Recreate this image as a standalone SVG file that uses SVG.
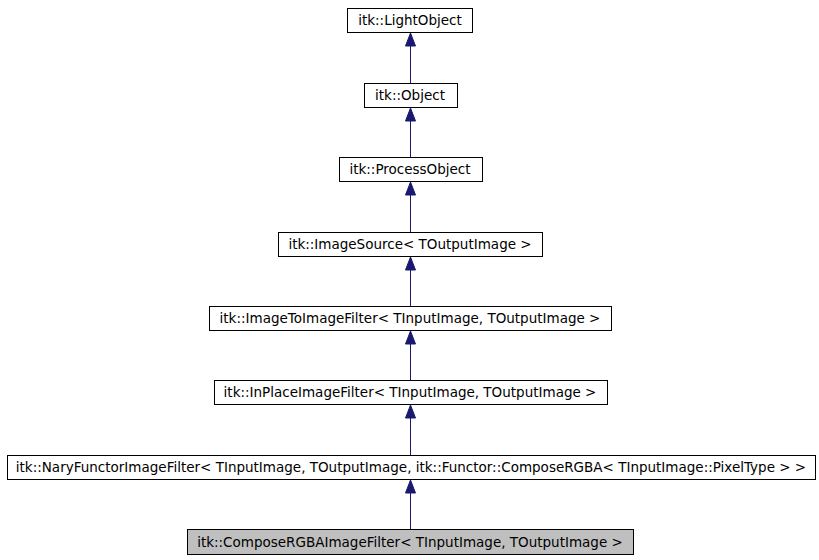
<svg xmlns="http://www.w3.org/2000/svg" width="819" height="560" viewBox="0 0 819 560">
<style>
rect{fill:#fff;stroke:#000;stroke-width:1}
text{font-family:"DejaVu Sans",sans-serif;font-size:13.5px;text-anchor:middle;fill:#000}
.e{stroke:#191970;stroke-width:1;fill:none}
.h{fill:#191970;stroke:#191970}
</style>
<rect x="0" y="0" width="819" height="560" style="fill:#fff;stroke:none"/>
<g id="n1"><rect x="347.5" y="8.5" width="125" height="24"/><text x="410" y="25">itk::LightObject</text></g>
<g id="n2"><rect x="364.5" y="83.5" width="93" height="24"/><text x="410" y="100">itk::Object</text></g>
<g id="n3"><rect x="339.5" y="157.5" width="143" height="24"/><text x="410" y="174">itk::ProcessObject</text></g>
<g id="n4"><rect x="278.5" y="232.5" width="264" height="24"/><text x="410" y="249">itk::ImageSource&lt; TOutputImage &gt;</text></g>
<g id="n5"><rect x="209.5" y="306.5" width="402" height="24"/><text x="410" y="323">itk::ImageToImageFilter&lt; TInputImage, TOutputImage &gt;</text></g>
<g id="n6"><rect x="214.5" y="380.5" width="393" height="24"/><text x="410" y="397">itk::InPlaceImageFilter&lt; TInputImage, TOutputImage &gt;</text></g>
<g id="n7"><rect x="7.5" y="455.5" width="808" height="24"/><text x="411" y="472">itk::NaryFunctorImageFilter&lt; TInputImage, TOutputImage, itk::Functor::ComposeRGBA&lt; TInputImage::PixelType &gt; &gt;</text></g>
<g id="n8"><rect x="187.5" y="529.5" width="446" height="25" style="fill:#bfbfbf"/><text x="410" y="547">itk::ComposeRGBAImageFilter&lt; TInputImage, TOutputImage &gt;</text></g>
<g id="edges">
<path class="e" d="M410.5 83V46"/><path class="h" d="M410.5 33L405.5 46H415.5Z"/>
<path class="e" d="M410.5 157V121"/><path class="h" d="M410.5 108L405.5 121H415.5Z"/>
<path class="e" d="M410.5 232V195"/><path class="h" d="M410.5 182L405.5 195H415.5Z"/>
<path class="e" d="M410.5 306V270"/><path class="h" d="M410.5 257L405.5 270H415.5Z"/>
<path class="e" d="M410.5 380V344"/><path class="h" d="M410.5 331L405.5 344H415.5Z"/>
<path class="e" d="M410.5 455V418"/><path class="h" d="M410.5 405L405.5 418H415.5Z"/>
<path class="e" d="M410.5 529V493"/><path class="h" d="M410.5 480L405.5 493H415.5Z"/>
</g>
</svg>
